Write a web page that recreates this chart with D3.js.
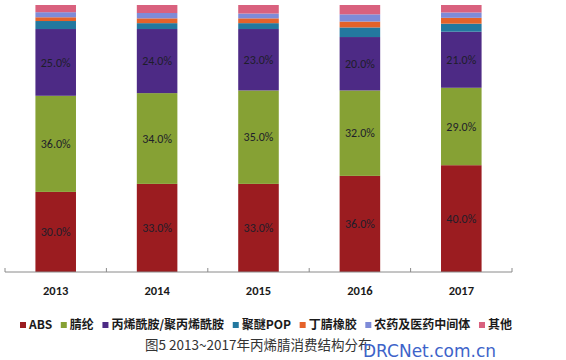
<!DOCTYPE html>
<html><head><meta charset="utf-8">
<script src="https://cdn.jsdelivr.net/npm/d3@7"></script>
<style>
html,body{margin:0;padding:0;background:#fff;}
svg{display:block;}
</style></head>
<body>
<svg id="chart" width="566" height="360"></svg>
<script>
const years = ["2013","2014","2015","2016","2017"];
const seriesNames = ["ABS","腈纶","丙烯酰胺/聚丙烯酰胺","聚醚POP","丁腈橡胶","农药及医药中间体","其他"];
const absVals = [30,33,33,36,40];
const nitrileVals = [36,34,35,32,29];
const acrylamideVals = [25,24,23,20,21];
const popVals = [3,2.2,2.2,3.6,3];
const nbrVals = [1.4,1.8,1.8,2.2,2.2];
const pesticideVals = [1.9,2,1.8,2.7,2];
const otherVals = [2.7,3,3.2,3.5,2.8];
const labelTexts = [
  ["30.0%","33.0%","33.0%","36.0%","40.0%"],
  ["36.0%","34.0%","35.0%","32.0%","29.0%"],
  ["25.0%","24.0%","23.0%","20.0%","21.0%"]
];
const colors = ["#9b1c20","#86a134","#4d2a85","#23789f","#e5622a","#7e8bd8","#d9617e"];
const title = "图5 2013~2017年丙烯腈消费结构分布";
const watermark = "DRCNet.com.cn";

const allSeries = [absVals,nitrileVals,acrylamideVals,popVals,nbrVals,pesticideVals,otherVals];
const svg = d3.select("#chart");

const x = d3.scaleBand().domain(years).range([5,512]).paddingInner(0.6).paddingOuter(0.3);
const total = years.map((_,i)=>d3.sum(allSeries,s=>s[i]));
const y = d3.scaleLinear().domain([0,100]).range([272,5]);

const rows = years.map((yr,i)=>{
  const o={year:yr};
  seriesNames.forEach((n,k)=>o[n]=allSeries[k][i]*100/total[i]);
  return o;
});
const stacked = d3.stack().keys(seriesNames)(rows);

const g = svg.append("g");
stacked.forEach((layer,k)=>{
  g.selectAll(null).data(layer).enter().append("rect")
    .attr("x",d=>x(d.data.year))
    .attr("width",x.bandwidth())
    .attr("y",d=>y(d[1]))
    .attr("height",d=>y(d[0])-y(d[1]))
    .attr("fill",colors[k]);
});
for(let k=0;k<3;k++){
  g.selectAll(null).data(stacked[k]).enter().append("text")
    .attr("x",d=>x(d.data.year)+x.bandwidth()/2)
    .attr("y",d=>(y(d[0])+y(d[1]))/2)
    .attr("dy","0.35em")
    .attr("text-anchor","middle")
    .attr("font-family","Carlito, 'Liberation Sans', Arial, sans-serif")
    .attr("font-size","12px")
    .attr("fill","#1e1e2a")
    .text((d,i)=>labelTexts[k][i]);
}

const axisG = svg.append("g").attr("transform","translate(0,272)");
axisG.append("line").attr("x1",5).attr("x2",512).attr("y1",0).attr("y2",0)
  .attr("stroke","#8a8a8a").attr("stroke-width",1);
const bounds = years.map(yv=>x(yv)-x.step()*x.paddingInner()/2).concat([512]);
bounds[0]=5;
axisG.selectAll(null).data(bounds).enter().append("line")
  .attr("x1",d=>d).attr("x2",d=>d).attr("y1",-4).attr("y2",0)
  .attr("stroke","#8a8a8a");
axisG.selectAll(null).data(years).enter().append("text")
  .attr("x",d=>x(d)+x.bandwidth()/2)
  .attr("y",19).attr("dy","0.35em")
  .attr("text-anchor","middle")
  .attr("font-family","Carlito, 'Liberation Sans', Arial, sans-serif")
  .attr("font-weight","bold").attr("font-size","12.5px").attr("fill","#1a1a1a")
  .text(d=>d);

const leg = svg.append("g").attr("transform","translate(0,325)");
const items = leg.selectAll(null).data(seriesNames).enter().append("g");
items.append("rect").attr("width",6).attr("height",6).attr("y",-3).attr("fill",(d,i)=>colors[i]);
const lt = items.append("text").attr("x",9).attr("dy","0.35em")
  .attr("font-family","'Noto Sans CJK SC', 'Liberation Sans', sans-serif")
  .attr("font-weight","bold").attr("font-size","12px").attr("fill","#1a1a1a")
  .text(d=>d);
const widths = lt.nodes().map(n=>n.getComputedTextLength()+9);
const startX=20, endX=512;
const gap=(endX-startX-d3.sum(widths))/(seriesNames.length-1);
let cx=startX;
items.attr("transform",(d,i)=>{const t=`translate(${cx},0)`; cx+=widths[i]+gap; return t;});

svg.append("text").attr("x",145).attr("y",345).attr("dy","0.35em")
  .attr("font-family","'Noto Sans CJK SC', sans-serif")
  .attr("font-size","13.5px").attr("fill","#333")
  .text(title);
svg.append("text").attr("x",363).attr("y",357)
  .attr("font-family","'DejaVu Sans', sans-serif")
  .attr("font-size","17px").attr("fill","#3d63c9")
  .text(watermark);
</script>
</body></html>
